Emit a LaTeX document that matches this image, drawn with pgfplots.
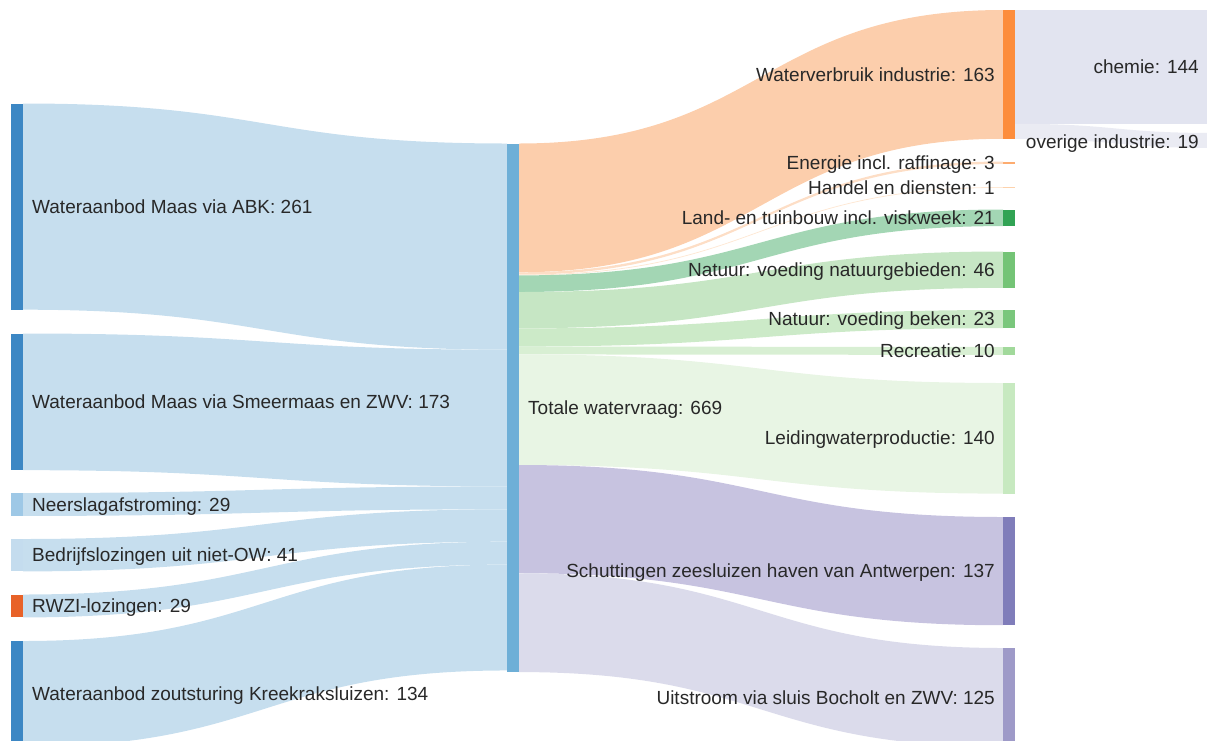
\documentclass[border=0pt]{standalone}
\usepackage{pgfplots}
\pgfplotsset{compat=1.18}
\usepackage{fontspec}
\setmainfont{Liberation Sans}

% node colours
\definecolor{nblue}{RGB}{60,135,196}
\definecolor{nlight}{RGB}{158,200,230}
\definecolor{nvlight}{RGB}{196,220,238}
\definecolor{nred}{RGB}{232,98,40}
\definecolor{nmid}{RGB}{110,175,215}
\definecolor{nind}{RGB}{253,141,60}
\definecolor{nen}{RGB}{253,172,112}
\definecolor{nhan}{RGB}{253,210,172}
\definecolor{nland}{RGB}{49,163,84}
\definecolor{nnat}{RGB}{116,196,118}
\definecolor{nbek}{RGB}{122,199,124}
\definecolor{nrec}{RGB}{161,217,155}
\definecolor{nlei}{RGB}{199,233,192}
\definecolor{nsch}{RGB}{128,125,186}
\definecolor{nuit}{RGB}{158,154,200}
% flow colours
\definecolor{fblue}{RGB}{198,222,238}
\definecolor{find}{RGB}{252,206,172}
\definecolor{fen}{RGB}{253,222,198}
\definecolor{fhan}{RGB}{254,232,212}
\definecolor{fland}{RGB}{163,214,180}
\definecolor{fnat}{RGB}{198,230,196}
\definecolor{fbek}{RGB}{204,234,200}
\definecolor{frec}{RGB}{216,239,211}
\definecolor{flei}{RGB}{232,245,228}
\definecolor{fsch}{RGB}{199,195,224}
\definecolor{fuit}{RGB}{219,219,235}
\definecolor{fchem}{RGB}{226,228,240}
\definecolor{fover}{RGB}{234,235,243}
\definecolor{txt}{RGB}{40,40,40}

\tikzset{lbl/.style={font=\fontsize{19}{22}\selectfont, text=txt, inner sep=0pt, yshift=-6.6pt}}

\def\flowscale{0.79}% pixels per unit

% band: x0, top at source, x1, top at target, value, colour
\newcommand{\band}[6]{%
  \pgfmathsetmacro\bh{#5*\flowscale}%
  \pgfmathsetmacro\xm{(#1+#3)/2}%
  \pgfmathsetmacro\ya{#2+\bh}%
  \pgfmathsetmacro\yb{#4+\bh}%
  \edef\temp{\noexpand\fill[#6] (axis cs:#1,#2) .. controls (axis cs:\xm,#2) and (axis cs:\xm,#4) .. (axis cs:#3,#4)
    -- (axis cs:#3,\yb) .. controls (axis cs:\xm,\yb) and (axis cs:\xm,\ya) .. (axis cs:#1,\ya) -- cycle;}%
  \temp}

% node bar: x0, top, value, colour
\newcommand{\nodebar}[4]{%
  \pgfmathsetmacro\xb{#1+12}%
  \pgfmathsetmacro\yb{#2+#3*\flowscale}%
  \edef\temp{\noexpand\addplot[fill=#4, draw=none, forget plot] coordinates {(#1,#2) (\xb,#2) (\xb,\yb) (#1,\yb)};}%
  \temp}

\begin{document}
\begin{tikzpicture}
\useasboundingbox (0,0) rectangle (1207pt,740pt);
\begin{axis}[
    scale only axis,
    width=1207pt, height=740pt,
    xmin=0, xmax=1207, ymin=0, ymax=740,
    y dir=reverse,
    hide axis,
    clip=true,
]
% sources -> total demand
\band{23}{103.5}{507}{143.5}{261}{fblue}
\band{23}{333.5}{507}{349.7}{173}{fblue}
\band{23}{493}{507}{486.4}{29}{fblue}
\band{23}{539}{507}{509.3}{41}{fblue}
\band{23}{594.5}{507}{541.7}{29}{fblue}
\band{23}{641}{507}{564.6}{134}{fblue}
% total demand -> uses
\band{519}{143.5}{1003}{10}{163}{find}
\band{519}{272.3}{1003}{161.5}{3}{fen}
\band{519}{274.6}{1003}{187}{1}{fhan}
\band{519}{275.4}{1003}{209.5}{21}{fland}
\band{519}{292.0}{1003}{251.5}{46}{fnat}
\band{519}{328.4}{1003}{310}{23}{fbek}
\band{519}{346.5}{1003}{347}{10}{frec}
\band{519}{354.4}{1003}{383}{140}{flei}
\band{519}{465.0}{1003}{517}{137}{fsch}
\band{519}{573.3}{1003}{648}{125}{fuit}
% industry split
\band{1015}{10}{1215}{10}{144}{fchem}
\band{1015}{123.8}{1215}{133}{19}{fover}

% nodes
\nodebar{11}{103.5}{261}{nblue}
\nodebar{11}{333.5}{173}{nblue}
\nodebar{11}{493}{29}{nlight}
\nodebar{11}{539}{41}{nvlight}
\nodebar{11}{594.5}{29}{nred}
\nodebar{11}{641}{134}{nblue}
\nodebar{507}{143.5}{669}{nmid}
\nodebar{1003}{10}{163}{nind}
\nodebar{1003}{161.5}{3}{nen}
\nodebar{1003}{187}{1}{nhan}
\nodebar{1003}{209.5}{21}{nland}
\nodebar{1003}{251.5}{46}{nnat}
\nodebar{1003}{310}{23}{nbek}
\nodebar{1003}{347}{10}{nrec}
\nodebar{1003}{383}{140}{nlei}
\nodebar{1003}{517}{137}{nsch}
\nodebar{1003}{648}{125}{nuit}

% labels
\node[lbl, anchor=base west] at (axis cs:32,206.6) {Wateraanbod Maas via ABK: 261};
\node[lbl, anchor=base west] at (axis cs:32,401.8) {Wateraanbod Maas via Smeermaas en ZWV: 173};
\node[lbl, anchor=base west] at (axis cs:32,504.5) {Neerslagafstroming: 29};
\node[lbl, anchor=base west] at (axis cs:32,555.2) {Bedrijfslozingen uit niet-OW: 41};
\node[lbl, anchor=base west] at (axis cs:32,606) {RWZI-lozingen: 29};
\node[lbl, anchor=base west] at (axis cs:32,694) {Wateraanbod zoutsturing Kreekraksluizen: 134};
\node[lbl, anchor=base west] at (axis cs:528,408) {Totale watervraag: 669};
\node[lbl, anchor=base east] at (axis cs:995,74.4) {Waterverbruik industrie: 163};
\node[lbl, anchor=base east] at (axis cs:995,162.7) {Energie incl. raffinage: 3};
\node[lbl, anchor=base east] at (axis cs:995,187.4) {Handel en diensten: 1};
\node[lbl, anchor=base east] at (axis cs:995,217.8) {Land- en tuinbouw incl. viskweek: 21};
\node[lbl, anchor=base east] at (axis cs:995,269.7) {Natuur: voeding natuurgebieden: 46};
\node[lbl, anchor=base east] at (axis cs:995,319.1) {Natuur: voeding beken: 23};
\node[lbl, anchor=base east] at (axis cs:995,351) {Recreatie: 10};
\node[lbl, anchor=base east] at (axis cs:995,438.3) {Leidingwaterproductie: 140};
\node[lbl, anchor=base east] at (axis cs:995,571.1) {Schuttingen zeesluizen haven van Antwerpen: 137};
\node[lbl, anchor=base east] at (axis cs:995,697.4) {Uitstroom via sluis Bocholt en ZWV: 125};
\node[lbl, anchor=base east] at (axis cs:1199,66.9) {chemie: 144};
\node[lbl, anchor=base east] at (axis cs:1199,141.5) {overige industrie: 19};
\end{axis}
\end{tikzpicture}
\end{document}
